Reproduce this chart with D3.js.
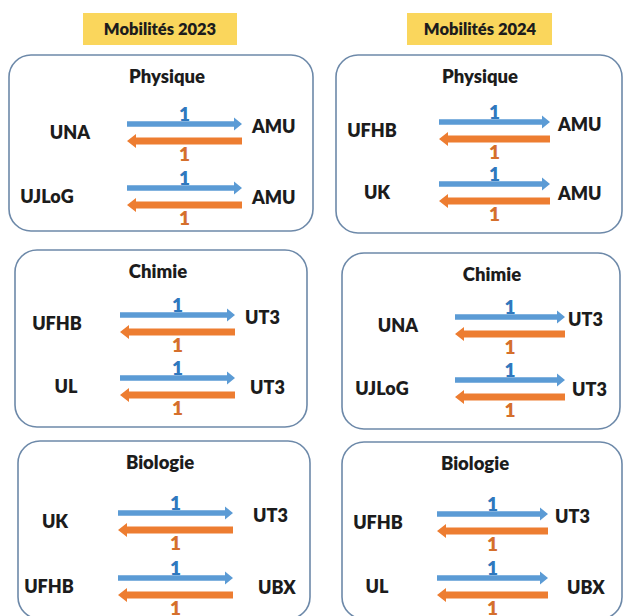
<!DOCTYPE html>
<html>
<head>
<meta charset="utf-8">
<script src="https://cdn.jsdelivr.net/npm/d3@7"></script>
<style>
	body{margin:0;background:#fff;}
	text{font-family:Lato,"Open Sans",sans-serif;font-weight:800;}
</style>
</head>
<body>
<svg id="chart" width="625" height="616"></svg>
<script>
// data
var years=["Mobilités 2023","Mobilités 2024"];
var disciplines=["Physique","Chimie","Biologie"];
var origins2023=["UNA","UJLoG","UFHB","UL","UK","UFHB"];
var hosts2023=["AMU","AMU","UT3","UT3","UT3","UBX"];
var outgoing2023=[1,1,1,1,1,1];
var incoming2023=[1,1,1,1,1,1];
var origins2024=["UFHB","UK","UNA","UJLoG","UFHB","UL"];
var hosts2024=["AMU","AMU","UT3","UT3","UT3","UBX"];
var outgoing2024=[1,1,1,1,1,1];
var incoming2024=[1,1,1,1,1,1];

// layout of the hand drawn slide (one entry per year, per discipline)
var headerBoxes=[{x:83,y:13,w:154,h:32,cx:160},{x:407,y:13,w:145,h:32,cx:480}];
var frames=[
	[
		{x:9,y:55,w:304,h:176,tx:167,ax:[127,242],rows:[124,188],lx:[70,47],rx:[252,252]},
		{x:15,y:250,w:292,h:177,tx:158,ax:[120,235],rows:[315,378],lx:[57,66],rx:[245,250]},
		{x:18,y:441,w:292,h:178,tx:160,ax:[118,233],rows:[513,578],lx:[55,49],rx:[253,258]}
	],
	[
		{x:336,y:55,w:286,h:178,tx:480,ax:[439,550],rows:[122,184],lx:[372,377],rx:[558,558]},
		{x:342,y:253,w:278,h:176,tx:492,ax:[455,565],rows:[317,380],lx:[398,382],rx:[568,572]},
		{x:342,y:442,w:280,h:177,tx:475,ax:[437,548],rows:[514,578],lx:[378,377],rx:[555,567]}
	]
];

var blue="#5B9BD5",orange="#ED7D31";
var blueText="#2F78BE",orangeText="#D56F2C";
var ink="#1c1c1c";
var gap=17;

var svg=d3.select("#chart");

var yearData=[
	{origins:origins2023,hosts:hosts2023,out:outgoing2023,inc:incoming2023},
	{origins:origins2024,hosts:hosts2024,out:outgoing2024,inc:incoming2024}
];

// arrow shape: shaft plus triangular head, pointing from x0 to x1
function arrowPath(x0,x1,y,thick,headLen,headHalf){
	var dir=x1>x0?1:-1;
	var xb=x1-dir*headLen;
	var t=thick/2;
	return "M"+x0+","+(y-t)+"L"+xb+","+(y-t)+"L"+xb+","+(y-headHalf)+"L"+x1+","+y+
		"L"+xb+","+(y+headHalf)+"L"+xb+","+(y+t)+"L"+x0+","+(y+t)+"Z";
}

years.forEach(function(year,c){
	var hb=headerBoxes[c];
	svg.append("rect").attr("x",hb.x).attr("y",hb.y).attr("width",hb.w).attr("height",hb.h)
		.attr("fill","#FAD65C");
	svg.append("text").attr("x",hb.cx).attr("y",hb.y+hb.h/2).attr("dy","0.36em")
		.attr("text-anchor","middle").attr("font-size",16.5).attr("fill",ink).text(year);

	var yd=yearData[c];
	disciplines.forEach(function(disc,p){
		var f=frames[c][p];
		var g=svg.append("g");
		g.append("rect").attr("x",f.x).attr("y",f.y).attr("width",f.w).attr("height",f.h)
			.attr("rx",22).attr("ry",22).attr("fill","none")
			.attr("stroke","#6D89A9").attr("stroke-width",1.6);
		g.append("text").attr("x",f.tx).attr("y",f.y+21).attr("dy","0.36em")
			.attr("text-anchor","middle").attr("font-size",18.5).attr("fill",ink).text(disc);

		// 0 = home university side, 1 = host side
		var x=d3.scaleLinear().domain([0,1]).range(f.ax);
		var y=d3.scalePoint().domain([0,1]).range(f.rows);

		var pairs=[0,1].map(function(r){
			var i=p*2+r;
			return {r:r,origin:yd.origins[i],host:yd.hosts[i],out:yd.out[i],inc:yd.inc[i]};
		});

		var row=g.selectAll("g.pair").data(pairs).enter().append("g").attr("class","pair");

		row.append("path").attr("fill",blue)
			.attr("d",function(d){return arrowPath(x(0),x(1),y(d.r),5.5,8,6.5);});
		row.append("path").attr("fill",orange)
			.attr("d",function(d){return arrowPath(x(1),x(0),y(d.r)+gap,7,9,7);});

		row.append("text").attr("x",x(0.5)).attr("y",function(d){return y(d.r)-10;})
			.attr("dy","0.36em").attr("text-anchor","middle").attr("font-size",19)
			.attr("fill",blueText).text(function(d){return d.out;});
		row.append("text").attr("x",x(0.5)).attr("y",function(d){return y(d.r)+gap+13;})
			.attr("dy","0.36em").attr("text-anchor","middle").attr("font-size",19)
			.attr("fill",orangeText).text(function(d){return d.inc;});

		row.append("text").attr("x",function(d){return f.lx[d.r];})
			.attr("y",function(d){return y(d.r)+gap/2;})
			.attr("dy","0.36em").attr("text-anchor","middle").attr("font-size",18)
			.attr("fill",ink).text(function(d){return d.origin;});
		row.append("text").attr("x",function(d){return f.rx[d.r];})
			.attr("y",function(d){return d.r===0?y(d.r)+3:y(d.r)+gap/2+1;})
			.attr("dy","0.36em").attr("text-anchor","start").attr("font-size",18)
			.attr("fill",ink).text(function(d){return d.host;});
	});
});
</script>
</body>
</html>
